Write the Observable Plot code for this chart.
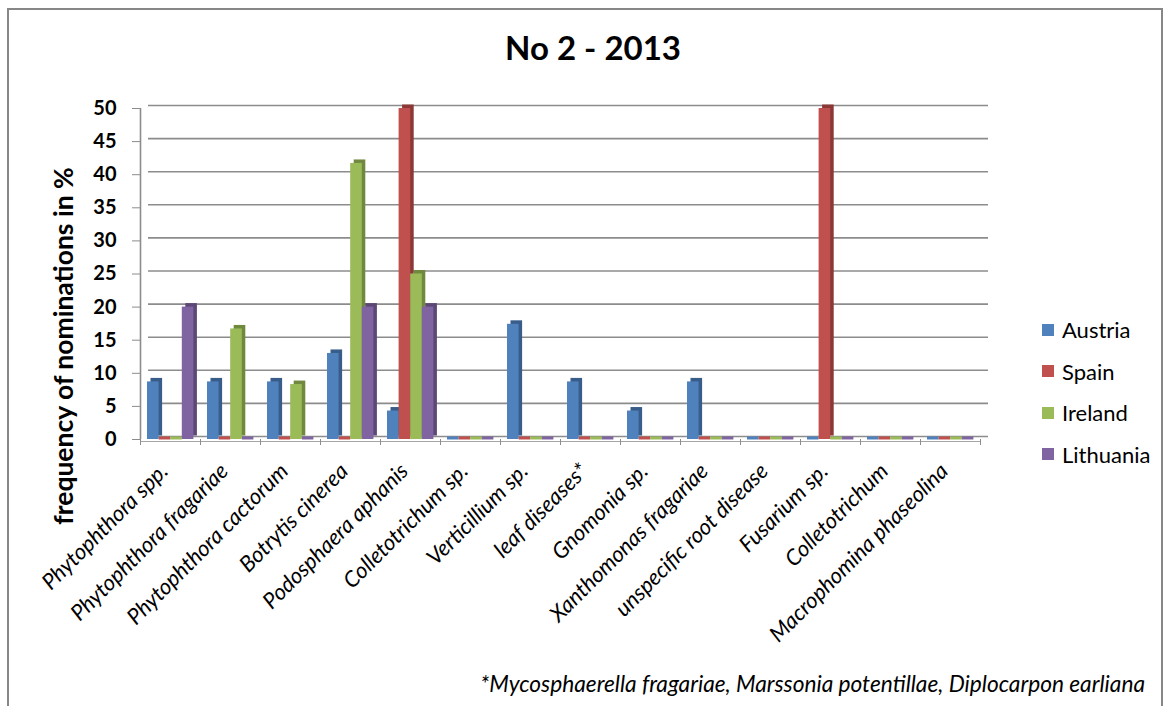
<!DOCTYPE html>
<html><head><meta charset="utf-8">
<script src="https://cdn.jsdelivr.net/npm/d3@7"></script>
<script src="https://cdn.jsdelivr.net/npm/@observablehq/plot@0.6"></script>
<style>
body{margin:0;background:#fff;font-family:Lato,"Open Sans",sans-serif;}
#wrap{position:relative;width:1170px;height:706px;overflow:hidden;background:#fff;}
#border{position:absolute;left:7px;top:8px;width:1156px;height:760px;border:2px solid #878787;box-sizing:border-box;}
#title{position:absolute;left:8px;width:1170px;top:27px;text-align:center;font-weight:bold;font-size:33px;line-height:40px;}
#ylabel{position:absolute;left:63px;top:346px;transform:translate(-50%,-50%) rotate(-90deg);white-space:nowrap;font-weight:bold;font-size:26.5px;}
#legend{position:absolute;left:1042px;top:309px;}
.li{display:flex;align-items:center;height:41.5px;font-size:22px;}
.sw{width:12px;height:12px;margin-right:8px;}
#note{position:absolute;right:25px;top:670px;font-style:italic;font-size:22.7px;line-height:28px;}
#chart{position:absolute;left:0;top:0;}
#chart g[aria-label="x-axis tick label"] text{font-style:italic;}
</style></head><body>
<div id="wrap">
<div id="border"></div>
<div id="chart"></div>
<div id="title">No 2 - 2013</div>
<div id="ylabel">frequency of nominations in %</div>
<div id="legend"></div>
<div id="note">*Mycosphaerella fragariae, Marssonia potentillae, Diplocarpon earliana</div>
</div>
<script>
const categories = ["Phytophthora spp.","Phytophthora fragariae","Phytophthora cactorum","Botrytis cinerea","Podosphaera aphanis","Colletotrichum sp.","Verticillium sp.","leaf diseases*","Gnomonia sp.","Xanthomonas fragariae","unspecific root disease","Fusarium sp.","Colletotrichum","Macrophomina phaseolina"];
const series = ["Austria","Spain","Ireland","Lithuania"];
const austria   = [8.7, 8.7, 8.7, 13.0, 4.3, 0, 17.4, 8.7, 4.3, 8.7, 0, 0, 0, 0];
const spain     = [0, 0, 0, 0, 50, 0, 0, 0, 0, 0, 0, 50, 0, 0];
const ireland   = [0, 16.7, 8.3, 41.7, 25, 0, 0, 0, 0, 0, 0, 0, 0, 0];
const lithuania = [20, 0, 0, 20, 20, 0, 0, 0, 0, 0, 0, 0, 0, 0];
const yTicks = [0, 5, 10, 15, 20, 25, 30, 35, 40, 45, 50];

const colors = ["#4F81BD","#C0504D","#9BBB59","#8064A2"];
const sideColors = ["#385D8A","#8C3836","#71893F","#5C4776"];

const values = [austria, spain, ireland, lithuania];
const rows = series.map((s, i) => categories.map((c, j) => ({category: c, country: s, value: values[i][j]})));

const band = 60, start = 7, step = 11.6;
const ins = i => ({insetLeft: start + step * i, insetRight: band - start - step * (i + 1)});

const marks = [
  Plot.ruleY(yTicks, {stroke: "#8c8c8c", strokeWidth: 1.6, dx: 8, dy: -3}),
  Plot.ruleY([0], {stroke: "#a6a6a6", strokeWidth: 1.2, dy: 2}),
  Plot.ruleX([categories[0]], {x: d => d, dx: -30, y1: 0, y2: 50, stroke: "#8c8c8c", strokeWidth: 1.6}),
  Plot.axisY(yTicks, {tickSize: 8, tickPadding: 16, fontSize: 20, fontWeight: "bold", label: null, stroke: "#8c8c8c"}),
  Plot.axisX({tickSize: 6, tickFormat: () => "", dx: -30, label: null, stroke: "#8c8c8c"}),
  Plot.axisX([categories[categories.length - 1]], {tickSize: 6, tickFormat: () => "", dx: 30, label: null, stroke: "#8c8c8c"}),
  Plot.axisX({tickSize: 0, tickPadding: 28, tickRotate: -45, fontSize: 22, fontStyle: "italic", label: null, dx: -6}),
];
series.forEach((s, i) => {
  marks.push(Plot.tickY(rows[i].filter(d => d.value === 0), {x: "category", y: 0, stroke: colors[i], strokeWidth: 3, dy: -1.5, ...ins(i)}));
});
series.forEach((s, i) => {
  marks.push(Plot.barY(rows[i].filter(d => d.value > 0), {x: "category", y: "value", fill: sideColors[i], dx: 3.5, dy: -3.5, ...ins(i)}));
});
series.forEach((s, i) => {
  marks.push(Plot.barY(rows[i].filter(d => d.value > 0), {x: "category", y: "value", fill: colors[i], ...ins(i)}));
});

const chart = Plot.plot({
  width: 1170, height: 706,
  marginLeft: 140, marginRight: 190, marginTop: 108, marginBottom: 267,
  x: {domain: categories, padding: 0},
  y: {domain: [0, 50]},
  style: {fontFamily: "Lato, 'Open Sans', sans-serif", color: "#000", background: "transparent", overflow: "visible"},
  marks
});
document.getElementById("chart").appendChild(chart);

const legend = document.getElementById("legend");
series.forEach((s, i) => {
  const row = document.createElement("div"); row.className = "li";
  const sw = document.createElement("span"); sw.className = "sw"; sw.style.background = colors[i];
  row.appendChild(sw); row.appendChild(document.createTextNode(s));
  legend.appendChild(row);
});
</script>
</body></html>
